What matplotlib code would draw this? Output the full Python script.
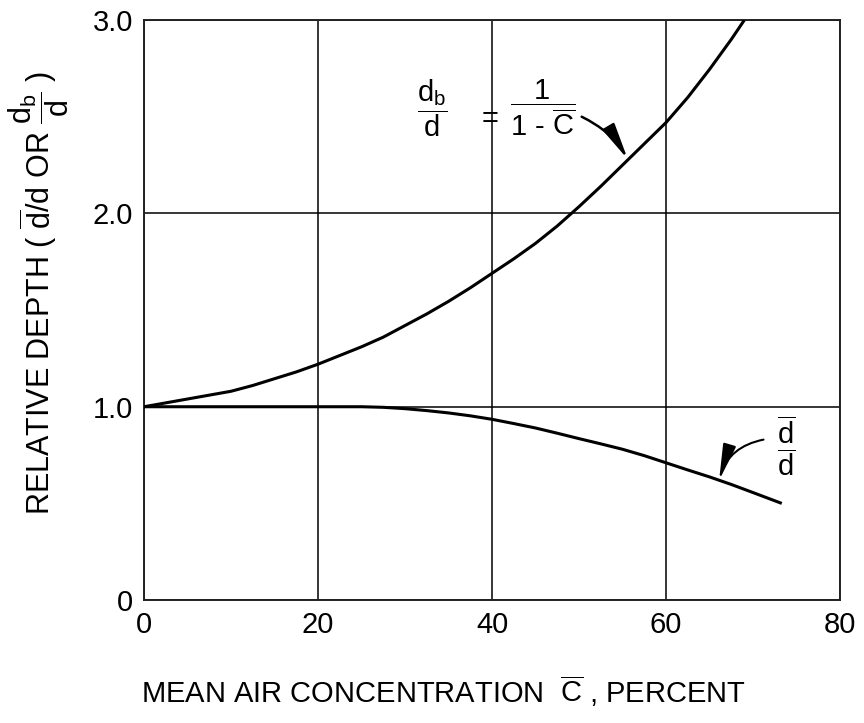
import matplotlib
matplotlib.use("Agg")
import matplotlib.pyplot as plt

plt.rcParams['font.family'] = ['Liberation Sans', 'DejaVu Sans']
plt.rcParams['mathtext.fontset'] = 'custom'
plt.rcParams['mathtext.rm'] = 'Liberation Sans'
plt.rcParams['mathtext.it'] = 'Liberation Sans'
plt.rcParams['mathtext.bf'] = 'Liberation Sans:bold'

# Data
c_upper = [0, 2.5, 5, 7.5, 10, 12.5, 15, 17.5, 20, 22.5, 25, 27.5, 30, 32.5, 35,
           37.5, 40, 42.5, 45, 47.5, 50, 52.5, 55, 57.5, 60, 62.5, 65, 67.5, 69]
d_upper = [1.0, 1.02, 1.04, 1.06, 1.08, 1.11, 1.145, 1.18, 1.22, 1.265, 1.31, 1.36,
           1.42, 1.48, 1.545, 1.615, 1.69, 1.765, 1.845, 1.935, 2.035, 2.14, 2.25,
           2.36, 2.47, 2.6, 2.745, 2.9, 3.0]

c_lower = [0, 10, 20, 25, 27.5, 30, 32.5, 35, 37.5, 40, 42.5, 45, 47.5, 50, 52.5,
           55, 57.5, 60, 62.5, 65, 67.5, 70, 73.3]
d_lower = [1.0, 1.0, 1.0, 1.0, 0.997, 0.99, 0.98, 0.968, 0.953, 0.935, 0.913, 0.89,
           0.863, 0.835, 0.808, 0.78, 0.747, 0.71, 0.673, 0.637, 0.598, 0.556, 0.50]

x_ticks = [0, 20, 40, 60, 80]
x_tick_labels = ['0', '20', '40', '60', '80']
y_ticks = [0, 1, 2, 3]
y_tick_labels = ['0', '1.0', '2.0', '3.0']

fig = plt.figure(figsize=(8.64, 7.23), dpi=100)
ax = fig.add_axes([0.1667, 0.170, 0.8056, 0.8023])

ax.plot(c_upper, d_upper, color='black', lw=2.2, solid_capstyle='butt',
        solid_joinstyle='round', zorder=3)
ax.plot(c_lower, d_lower, color='black', lw=2.2, solid_capstyle='butt',
        solid_joinstyle='round', zorder=3)

ax.set_xlim(0, 80)
ax.set_ylim(0, 3)
ax.set_xticks(x_ticks)
ax.set_xticklabels(x_tick_labels)
ax.set_yticks(y_ticks)
ax.set_yticklabels(y_tick_labels)
ax.tick_params(length=0, labelsize=21, pad=8)
ax.grid(True, color='black', lw=1.1)
for s in ax.spines.values():
    s.set_linewidth(1.4)
    s.set_color('#222222')

ax.set_xlabel(r'MEAN AIR CONCENTRATION  $\overline{\mathrm{C}}$ , PERCENT', fontsize=21)
ax.xaxis.set_label_coords(0.43, -0.178)
ax.xaxis.label.set_va('baseline')

ax.set_ylabel(r'RELATIVE DEPTH ( $\overline{\mathrm{d}}$/d OR $\dfrac{\mathrm{d_b}}{\mathrm{d}}$ )', fontsize=22)
ax.yaxis.set_label_coords(-0.105, 0.53)

# Upper annotation
ax.text(33.1, 2.545, r'$\dfrac{\mathrm{d_b}}{\mathrm{d}}$', fontsize=21, ha='center', va='center')
ax.text(39.8, 2.49, '=', fontsize=21, ha='center', va='center')
ax.text(45.8, 2.545, r'$\dfrac{\mathrm{1}}{\mathrm{1\ \text{-}\ \overline{C}}}$', fontsize=21, ha='center', va='center')
ax.annotate('', xy=(55.6, 2.28), xytext=(50.3, 2.5),
            arrowprops=dict(arrowstyle='-|>,head_length=1.1,head_width=0.2', color='black',
                            lw=1.8, connectionstyle='arc3,rad=-0.15', mutation_scale=20,
                            shrinkA=0, shrinkB=0))

# Lower annotation
ax.text(73.8, 0.80, r'$\dfrac{\overline{\mathrm{d}}}{\mathrm{d}}$', fontsize=21, ha='center', va='center')
ax.annotate('', xy=(66.1, 0.62), xytext=(71.2, 0.83),
            arrowprops=dict(arrowstyle='-|>,head_length=1.1,head_width=0.2', color='black',
                            lw=1.5, connectionstyle='arc3,rad=0.3', mutation_scale=20,
                            shrinkA=0, shrinkB=0))

fig.savefig('out.png', dpi=100)
